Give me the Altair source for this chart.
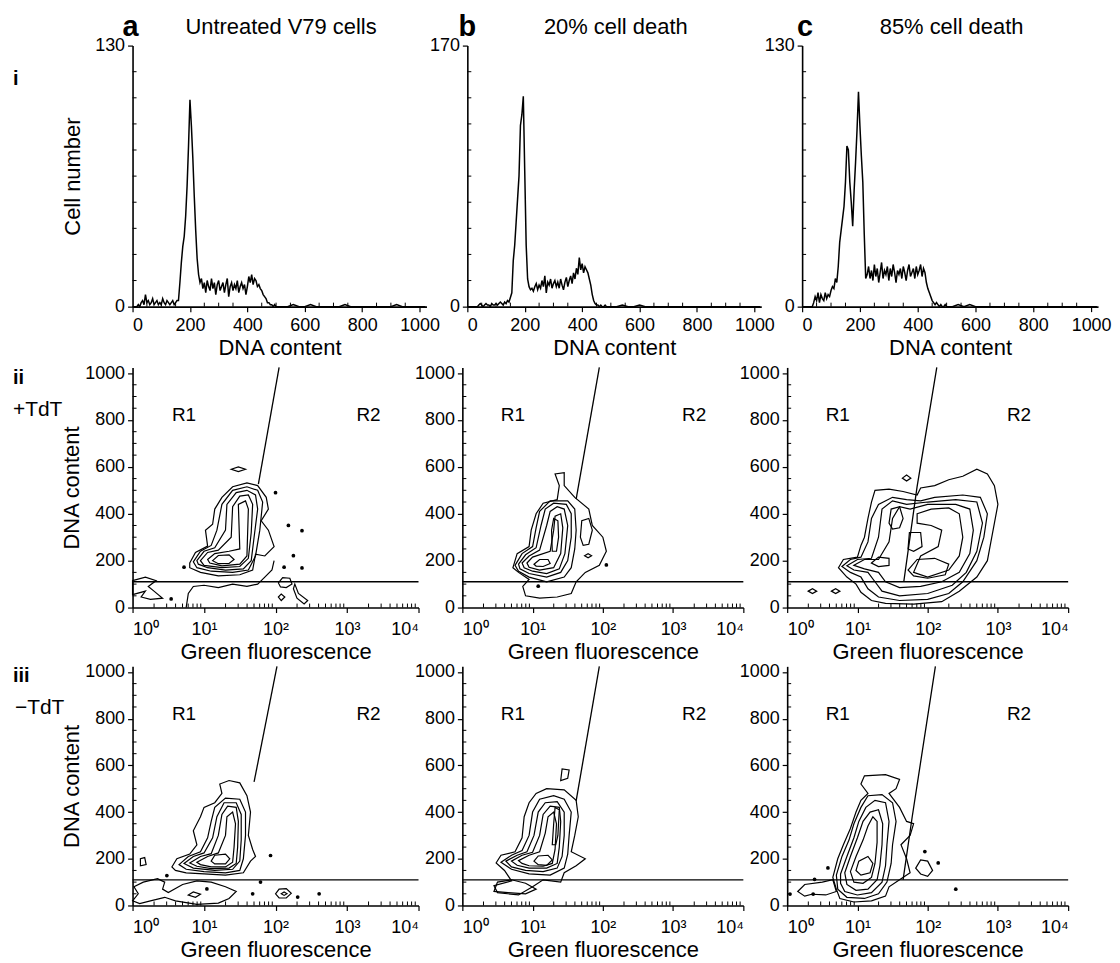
import altair as alt
import pandas as pd

FONT = "Liberation Sans"

# ---------------- Row i : DNA-content histograms ----------------
HIST_X = list(range(0, 505, 5)) + list(range(520, 1030, 20))

HIST_A = [0, 0, 0, 0, 1, 0,
          2, 3, 1, 6, 2, 3, 1, 2, 4, 1, 2, 3, 1, 2, 1, 4, 2, 1, 3, 2, 1, 2, 3, 1, 2, 3,
          3, 12, 22, 30, 35, 45, 60, 80, 103, 90, 74, 55, 38, 24, 16, 12,
          14, 9, 12, 7, 13, 10, 8, 14, 9, 12, 6, 11, 13, 8, 10, 12, 7, 11, 14, 5,
          10, 12, 8, 11, 9, 13, 7, 10, 12, 9, 11, 6, 10, 15, 12, 16, 11, 14, 13, 10, 11,
          9, 8, 6, 5, 4, 2, 2, 1, 1, 0, 1, 0,
          0, 0, 1, 0, 0, 1, 0, 0, 0, 0, 0, 1, 0, 0, 0, 0, 0, 0, 0, 0, 1, 0, 0, 0, 0, 0]

HIST_B = [0, 0, 0, 0, 0, 0,
          0, 0, 1, 2, 1, 0, 1, 2, 1, 1, 0, 2, 1, 1, 2, 1, 2, 3, 2, 1, 3, 2, 4, 3, 6, 9,
          30, 40, 55, 70, 85, 118, 125, 137, 88, 40, 18, 13, 11, 12, 10, 13,
          15, 11, 14, 12, 17, 13, 20, 9, 16, 14, 18, 12, 15, 17, 13, 16, 12, 18, 14, 11,
          16, 19, 13, 17, 20, 15, 22, 18, 25, 21, 32, 24, 28, 22, 26, 24, 22, 18, 14, 8, 4,
          2, 1, 1, 0, 1, 0, 0, 1, 0, 0, 0, 0,
          0, 1, 0, 0, 1, 0, 0, 0, 0, 0, 0, 0, 0, 0, 0, 0, 0, 0, 0, 0, 0, 0, 0, 0, 0, 0]

HIST_C = [0, 0, 0, 0, 0, 0,
          0, 0, 2, 5, 3, 7, 2, 6, 4, 3, 7, 4, 6, 5, 8, 10, 9, 14, 12, 20, 32, 38, 44, 50, 62, 80,
          78, 62, 52, 40, 58, 72, 88, 107, 90, 75, 62, 36, 14, 16, 20, 14,
          18, 13, 21, 15, 19, 12, 17, 22, 14, 18, 16, 20, 13, 19, 15, 21, 17, 12, 18, 16,
          19, 14, 20, 17, 13, 18, 21, 15, 17, 19, 14, 20, 16, 18, 21, 15, 19, 17, 12, 9, 7,
          5, 3, 2, 1, 2, 1, 0, 1, 0, 0, 1, 0,
          0, 1, 0, 1, 0, 0, 0, 0, 0, 0, 0, 0, 0, 0, 0, 0, 0, 0, 0, 0, 0, 0, 0, 0, 0, 0]

HIST_YMAX = [130, 170, 130]
HIST_XTICKS = [0, 200, 400, 600, 800, 1000]
HIST_XMINOR = [50, 100, 150, 250, 300, 350, 450, 500, 550, 650, 700, 750, 850, 900, 950]

COL_TITLES = ["Untreated V79 cells", "20% cell death", "85% cell death"]
COL_LETTERS = ["a", "b", "c"]

# ---------------- Rows ii / iii : contour plots ----------------
# vertices are (log10 green fluorescence, DNA content)
A2_RINGS = [
    [(0.80, 190), (0.88, 235), (1.05, 262), (1.02, 330), (1.12, 355), (1.15, 420), (1.25, 470), (1.40, 515),
     (1.60, 532), (1.75, 520), (1.87, 470), (1.90, 420), (1.80, 370), (1.90, 330), (1.98, 260), (1.85, 220),
     (1.72, 228), (1.68, 160), (1.50, 140), (1.20, 135), (0.95, 150), (0.80, 170)],
    [(0.85, 195), (0.95, 240), (1.10, 265), (1.18, 330), (1.25, 440), (1.40, 500), (1.60, 515), (1.75, 500),
     (1.82, 450), (1.78, 330), (1.72, 220), (1.62, 160), (1.40, 150), (1.10, 155), (0.90, 170)],
    [(0.90, 200), (1.00, 240), (1.15, 255), (1.30, 330), (1.32, 440), (1.45, 490), (1.60, 500), (1.72, 480),
     (1.75, 420), (1.70, 300), (1.66, 200), (1.55, 165), (1.30, 160), (1.05, 170), (0.92, 185)],
    [(0.95, 200), (1.05, 235), (1.20, 245), (1.38, 300), (1.40, 430), (1.50, 475), (1.62, 480), (1.68, 440),
     (1.66, 320), (1.62, 210), (1.50, 175), (1.25, 170), (1.00, 180)],
    [(1.05, 205), (1.15, 230), (1.35, 240), (1.50, 250), (1.48, 440), (1.58, 455), (1.62, 420), (1.60, 220),
     (1.50, 185), (1.25, 178), (1.08, 190)],
    [(1.12, 200), (1.20, 222), (1.35, 225), (1.42, 205), (1.35, 188), (1.20, 187)],
    [(1.38, 590), (1.48, 600), (1.58, 590), (1.48, 580)],
    [(0.00, 115), (0.18, 130), (0.33, 115), (0.22, 90), (0.30, 70), (0.42, 40), (0.25, 35), (0.12, 45),
     (0.18, 70), (0.00, 55)],
    [(2.04, 105), (2.10, 128), (2.20, 125), (2.23, 100), (2.15, 85), (2.07, 88)],
    [(2.04, 45), (2.08, 58), (2.13, 45), (2.08, 30)],
    [(2.27, 100), (2.32, 60), (2.45, 30), (2.40, 15), (2.30, 40), (2.25, 80)],
]
A2_OPEN = [
    [(0.75, 0), (0.78, 60), (0.85, 90), (1.00, 95), (1.20, 85), (1.40, 100), (1.60, 90), (1.75, 100),
     (1.85, 130), (1.95, 160), (1.98, 200)],
]
A2_DOTS = [(2.00, 490), (2.18, 350), (2.37, 328), (2.25, 221), (2.12, 172), (2.37, 169), (0.72, 172), (0.54, 37)]
A2_GATE = [(2.05, 1024), (1.76, 526)]

B2_RINGS = [
    [(0.72, 170), (0.78, 230), (0.95, 260), (0.98, 330), (1.05, 400), (1.15, 445), (1.35, 460), (1.38, 520),
     (1.32, 570), (1.45, 575), (1.45, 520), (1.60, 470), (1.80, 420), (1.85, 350), (2.00, 300), (2.05, 240),
     (1.95, 180), (1.75, 150), (1.62, 110), (1.55, 60), (1.35, 45), (1.10, 40), (0.90, 50), (0.86, 90),
     (0.95, 120), (0.80, 150)],
    [(0.75, 180), (0.85, 230), (1.00, 260), (1.05, 340), (1.10, 410), (1.25, 455), (1.50, 455), (1.60, 420),
     (1.62, 330), (1.60, 250), (1.55, 170), (1.45, 130), (1.20, 110), (0.95, 130), (0.80, 155)],
    [(0.80, 185), (0.90, 225), (1.05, 255), (1.12, 350), (1.18, 420), (1.30, 445), (1.48, 440), (1.55, 400),
     (1.55, 300), (1.50, 200), (1.40, 150), (1.20, 130), (0.95, 145), (0.82, 165)],
    [(0.85, 190), (0.95, 220), (1.10, 245), (1.20, 350), (1.25, 410), (1.35, 430), (1.45, 420), (1.50, 350),
     (1.46, 230), (1.38, 165), (1.20, 145), (1.00, 155), (0.88, 170)],
    [(0.92, 190), (1.00, 215), (1.25, 240), (1.30, 330), (1.32, 390), (1.40, 400), (1.43, 340), (1.40, 230),
     (1.30, 170), (1.10, 160), (0.95, 172)],
    [(1.02, 185), (1.10, 205), (1.22, 205), (1.25, 188), (1.15, 175), (1.05, 177)],
    [(1.28, 240), (1.27, 330), (1.30, 380), (1.36, 370), (1.37, 300), (1.34, 240)],
    [(1.68, 300), (1.70, 370), (1.80, 380), (1.85, 330), (1.80, 270), (1.72, 265)],
    [(1.74, 221), (1.79, 230), (1.84, 221), (1.79, 212)],
]
B2_OPEN = []
B2_DOTS = [(2.05, 182), (1.08, 91)]
B2_GATE = [(1.95, 1024), (1.62, 462)]

C2_RINGS = [
    [(0.73, 170), (0.80, 205), (1.00, 215), (1.05, 265), (1.10, 300), (1.15, 380), (1.20, 450), (1.25, 500),
     (1.45, 505), (1.65, 495), (1.85, 480), (1.90, 510), (2.10, 520), (2.30, 545), (2.50, 560), (2.70, 590),
     (2.85, 570), (2.95, 520), (3.00, 440), (2.95, 360), (2.90, 280), (2.85, 200), (2.70, 130), (2.45, 70),
     (2.20, 25), (1.80, 15), (1.40, 18), (1.20, 30), (1.05, 65), (0.98, 100), (0.85, 130)],
    [(0.78, 175), (0.90, 205), (1.05, 215), (1.15, 280), (1.20, 380), (1.30, 440), (1.50, 470), (1.70, 460),
     (1.90, 455), (2.10, 470), (2.50, 480), (2.75, 470), (2.85, 400), (2.80, 300), (2.70, 200), (2.50, 110),
     (2.30, 60), (2.00, 35), (1.60, 30), (1.30, 45), (1.15, 80), (1.05, 130), (0.90, 150)],
    [(0.85, 178), (1.00, 205), (1.20, 210), (1.30, 300), (1.35, 420), (1.50, 455), (1.70, 440), (2.00, 450),
     (2.40, 460), (2.70, 450), (2.78, 360), (2.70, 240), (2.55, 150), (2.35, 95), (2.00, 60), (1.60, 50),
     (1.35, 70), (1.25, 110), (1.15, 150), (0.95, 160)],
    [(0.95, 180), (1.10, 205), (1.30, 205), (1.45, 280), (1.50, 380), (1.60, 430), (1.75, 420), (2.00, 440),
     (2.40, 440), (2.60, 420), (2.65, 330), (2.60, 230), (2.45, 150), (2.20, 110), (1.90, 90), (1.60, 85),
     (1.40, 110), (1.30, 150), (1.10, 165)],
    [(1.85, 400), (2.05, 420), (2.30, 425), (2.45, 400), (2.50, 300), (2.45, 220), (2.30, 160), (2.00, 130),
     (1.80, 150), (1.90, 220), (2.15, 260), (2.20, 330), (2.05, 350), (1.85, 360)],
    [(1.72, 160), (1.85, 205), (2.10, 210), (2.30, 185), (2.25, 140), (2.00, 125), (1.80, 135)],
    [(1.45, 360), (1.48, 420), (1.60, 430), (1.65, 380), (1.60, 340), (1.50, 335)],
    [(1.20, 190), (1.30, 215), (1.45, 210), (1.45, 180), (1.30, 175)],
    [(1.72, 250), (1.74, 320), (1.90, 320), (1.92, 260), (1.80, 240)],
    [(0.30, 70), (0.36, 80), (0.42, 70), (0.36, 60)],
    [(0.63, 70), (0.69, 80), (0.75, 70), (0.69, 60)],
    [(1.64, 552), (1.70, 565), (1.76, 552), (1.70, 540)],
]
C2_OPEN = []
C2_DOTS = []
C2_GATE = [(2.13, 1024), (1.85, 517), (1.66, 110)]

A3_RINGS = [
    [(0.55, 165), (0.62, 200), (0.80, 220), (0.90, 260), (0.85, 320), (0.95, 380), (1.00, 420), (1.15, 440),
     (1.25, 480), (1.22, 520), (1.35, 535), (1.50, 525), (1.60, 470), (1.65, 400), (1.62, 300), (1.68, 240),
     (1.72, 210), (1.65, 190), (1.55, 140), (1.30, 130), (1.00, 135), (0.75, 140), (0.60, 150)],
    [(0.65, 175), (0.78, 210), (0.95, 230), (1.05, 290), (1.10, 360), (1.15, 420), (1.30, 460), (1.50, 455),
     (1.58, 400), (1.58, 300), (1.55, 200), (1.50, 150), (1.30, 140), (1.00, 145), (0.75, 155)],
    [(0.72, 180), (0.85, 210), (1.00, 225), (1.12, 290), (1.18, 380), (1.28, 440), (1.45, 440), (1.52, 390),
     (1.52, 280), (1.50, 190), (1.40, 155), (1.15, 150), (0.85, 160)],
    [(0.80, 182), (0.95, 210), (1.10, 222), (1.20, 300), (1.25, 390), (1.33, 425), (1.45, 420), (1.48, 360),
     (1.47, 250), (1.45, 180), (1.35, 160), (1.10, 158), (0.90, 168)],
    [(0.90, 185), (1.05, 210), (1.20, 225), (1.30, 300), (1.32, 380), (1.40, 400), (1.44, 350), (1.42, 250),
     (1.40, 185), (1.30, 165), (1.10, 165), (0.95, 175)],
    [(1.10, 190), (1.15, 215), (1.30, 220), (1.36, 200), (1.30, 178), (1.15, 178)],
    [(0.00, 20), (0.08, 50), (0.02, 80), (0.15, 100), (0.35, 115), (0.45, 100), (0.42, 70), (0.50, 55),
     (0.70, 90), (0.90, 105), (1.10, 100), (1.30, 80), (1.45, 60), (1.35, 30), (1.20, 10), (0.90, 5),
     (0.60, 20), (0.45, 35), (0.25, 20), (0.10, 8)],
    [(0.78, 45), (0.85, 58), (0.95, 48), (0.88, 35)],
    [(2.00, 50), (2.05, 70), (2.15, 72), (2.22, 52), (2.15, 32), (2.05, 32)],
    [(2.08, 50), (2.12, 58), (2.16, 50), (2.12, 43)],
    [(0.11, 170), (0.11, 200), (0.17, 205), (0.19, 175)],
]
A3_OPEN = []
A3_DOTS = [(1.68, 50), (2.31, 36), (2.61, 50), (1.93, 214), (1.79, 100), (0.48, 128), (1.04, 71)]
A3_GATE = [(2.02, 1024), (1.70, 529)]

B3_RINGS = [
    [(0.48, 182), (0.55, 215), (0.75, 230), (0.85, 290), (0.88, 380), (0.95, 440), (1.05, 480), (1.20, 500),
     (1.45, 495), (1.62, 450), (1.65, 380), (1.60, 300), (1.55, 230), (1.75, 200), (1.62, 170), (1.45, 140),
     (1.40, 100), (1.15, 110), (1.00, 80), (0.80, 45), (0.50, 55), (0.45, 85), (0.70, 105), (0.60, 150)],
    [(0.55, 185), (0.70, 215), (0.85, 235), (0.95, 300), (1.00, 400), (1.10, 455), (1.30, 470), (1.45, 455),
     (1.55, 400), (1.52, 300), (1.50, 220), (1.45, 160), (1.25, 130), (0.95, 135), (0.70, 155)],
    [(0.62, 190), (0.78, 215), (0.92, 230), (1.02, 300), (1.08, 400), (1.18, 440), (1.35, 445), (1.45, 400),
     (1.45, 300), (1.42, 210), (1.35, 160), (1.15, 145), (0.90, 150), (0.70, 165)],
    [(0.70, 190), (0.85, 215), (1.00, 228), (1.10, 300), (1.15, 390), (1.25, 425), (1.38, 420), (1.40, 360),
     (1.38, 250), (1.35, 180), (1.20, 160), (0.95, 160), (0.78, 172)],
    [(0.80, 192), (0.95, 215), (1.10, 230), (1.18, 310), (1.22, 380), (1.30, 400), (1.34, 350), (1.32, 240),
     (1.28, 180), (1.15, 168), (0.95, 170), (0.85, 180)],
    [(1.02, 190), (1.08, 212), (1.22, 215), (1.28, 195), (1.20, 172), (1.08, 175)],
    [(1.28, 260), (1.30, 350), (1.32, 420), (1.38, 410), (1.36, 300), (1.33, 260)],
    [(1.40, 535), (1.42, 585), (1.52, 580), (1.50, 545)],
    [(0.45, 60), (0.50, 100), (0.70, 110), (0.90, 95), (1.05, 70), (0.90, 50), (0.65, 55)],
]
B3_OPEN = []
B3_DOTS = []
B3_GATE = [(1.95, 1024), (1.62, 448)]

C3_RINGS = [
    [(0.65, 120), (0.72, 200), (0.80, 260), (0.90, 330), (0.98, 400), (1.05, 450), (1.15, 480), (1.05, 520),
     (1.10, 555), (1.40, 560), (1.60, 540), (1.55, 500), (1.45, 480), (1.60, 420), (1.70, 360), (1.80, 350),
     (1.75, 300), (1.62, 260), (1.70, 200), (1.75, 140), (1.60, 110), (1.45, 80), (1.40, 40), (1.20, 20),
     (0.95, 15), (0.75, 30), (0.70, 70)],
    [(0.70, 130), (0.78, 210), (0.88, 280), (0.95, 350), (1.05, 420), (1.15, 470), (1.35, 475), (1.50, 440),
     (1.55, 360), (1.50, 260), (1.48, 180), (1.42, 100), (1.30, 50), (1.10, 30), (0.85, 35), (0.72, 70)],
    [(0.76, 135), (0.85, 210), (0.95, 290), (1.02, 360), (1.12, 420), (1.25, 450), (1.40, 440), (1.45, 360),
     (1.42, 260), (1.40, 170), (1.35, 100), (1.20, 55), (1.00, 45), (0.82, 60), (0.76, 95)],
    [(0.82, 140), (0.90, 210), (1.00, 290), (1.08, 360), (1.18, 400), (1.30, 410), (1.36, 350), (1.35, 260),
     (1.32, 170), (1.28, 110), (1.15, 70), (0.98, 65), (0.85, 90)],
    [(0.90, 145), (0.98, 210), (1.08, 280), (1.15, 340), (1.22, 380), (1.28, 360), (1.28, 270), (1.25, 180),
     (1.20, 120), (1.08, 95), (0.95, 100)],
    [(0.98, 150), (1.02, 190), (1.15, 210), (1.22, 180), (1.18, 140), (1.05, 130)],
    [(0.15, 60), (0.25, 90), (0.50, 100), (0.65, 110), (0.70, 60), (0.55, 45), (0.35, 48), (0.25, 40)],
    [(1.83, 160), (1.90, 195), (2.00, 190), (2.07, 150), (2.00, 125), (1.90, 135)],
]
C3_OPEN = []
C3_DOTS = [(1.96, 231), (2.15, 182), (2.40, 70), (0.58, 161), (0.39, 112), (0.04, 49), (0.37, 49)]
C3_GATE = [(2.11, 1024), (1.78, 380), (1.65, 110)]

GATE_DNA = 110
REGION_TEXT = ["R1", "R2"]
REGION_POS = [(0.72, 820), (3.30, 820)]
LOG_TICKS = [1, 10, 100, 1000, 10000]
LOG_MINOR = [2, 3, 4, 5, 6, 7, 8, 9, 20, 30, 40, 50, 60, 70, 80, 90,
             200, 300, 400, 500, 600, 700, 800, 900, 2000, 3000, 4000, 5000, 6000, 7000, 8000, 9000]
DNA_TICKS = [0, 200, 400, 600, 800, 1000]
DNA_MINOR = [50, 100, 150, 250, 300, 350, 450, 500, 550, 650, 700, 750, 850, 900, 950]

SUP = ("datum.value == 1 ? '10\u2070' : datum.value == 10 ? '10\u00b9' : datum.value == 100 ? '10\u00b2'"
       " : datum.value == 1000 ? '10\u00b3' : '10\u2074'")


def path_df(paths):
    rows = []
    for i, p in enumerate(paths):
        for j, (lx, d) in enumerate(p):
            rows.append({"id": i, "k": j, "g": 10 ** lx, "dna": d})
    return pd.DataFrame(rows, columns=["id", "k", "g", "dna"])


def txt(text, x, y, size=19, weight="normal", align="left", baseline="alphabetic"):
    return alt.Chart(pd.DataFrame({"t": [text]})).mark_text(
        font=FONT, fontSize=size, fontWeight=weight, align=align, baseline=baseline, color="black"
    ).encode(text="t:N", x=alt.value(x), y=alt.value(y))


def hist_panel(vals, ymax, w, h, ytitle, extra):
    df = pd.DataFrame({"dna": HIST_X, "n": vals})
    if ytitle:
        yax = alt.Axis(values=[0, ymax], format="d", title="Cell number", tickSize=5, labelPadding=3, titlePadding=10)
    else:
        yax = alt.Axis(values=[0, ymax], format="d", title=None, tickSize=5, labelPadding=3)
    xenc = alt.X("dna:Q", scale=alt.Scale(domain=[0, 1024], nice=False),
                 axis=alt.Axis(values=HIST_XTICKS, format="d", title="DNA content", tickSize=5,
                               labelPadding=5, titlePadding=3))
    yenc = alt.Y("n:Q", scale=alt.Scale(domain=[0, ymax], nice=False), axis=yax)
    line = alt.Chart(df).mark_line(color="black", strokeWidth=1.5).encode(x=xenc, y=yenc)
    xm = alt.Chart(pd.DataFrame({"dna": HIST_XMINOR})).mark_rule(color="black", strokeWidth=1).encode(
        x=xenc, y=alt.value(h), y2=alt.value(h - 4))
    ym_vals = [ymax * k / 10 for k in range(1, 10)]
    ym = alt.Chart(pd.DataFrame({"n": ym_vals})).mark_rule(color="black", strokeWidth=1).encode(
        y=yenc, x=alt.value(0), x2=alt.value(4))
    return alt.layer(line, xm, ym, *extra).properties(width=w, height=h)


def contour_panel(rings, opens, dots, gate, w, h, ytitle, extra):
    xenc = alt.X("g:Q", scale=alt.Scale(type="log", domain=[1, 10000], nice=False),
                 axis=alt.Axis(values=LOG_TICKS, labelExpr=SUP, title="Green fluorescence",
                               tickSize=5, labelPadding=8, titlePadding=3))
    if ytitle:
        yax = alt.Axis(values=DNA_TICKS, format="d", title="DNA content", tickSize=5, labelPadding=3, titlePadding=1)
    else:
        yax = alt.Axis(values=DNA_TICKS, format="d", title=None, tickSize=5, labelPadding=3)
    yenc = alt.Y("dna:Q", scale=alt.Scale(domain=[0, 1024], nice=False), axis=yax)
    layers = [
        alt.Chart(path_df(rings)).mark_line(interpolate="linear-closed", color="black", strokeWidth=1.2).encode(
            x=xenc, y=yenc, detail="id:N", order="k:Q"),
    ]
    if opens:
        layers.append(alt.Chart(path_df(opens)).mark_line(color="black", strokeWidth=1.2).encode(
            x=xenc, y=yenc, detail="id:N", order="k:Q"))
    gate_paths = [gate, [(0.0, GATE_DNA), (4.0, GATE_DNA)]]
    layers.append(alt.Chart(path_df(gate_paths)).mark_line(color="black", strokeWidth=1.3).encode(
        x=xenc, y=yenc, detail="id:N", order="k:Q"))
    if dots:
        layers.append(alt.Chart(path_df([dots])).mark_circle(color="black", size=14, opacity=1).encode(
            x=xenc, y=yenc))
    lab = pd.DataFrame({"g": [10 ** p[0] for p in REGION_POS], "dna": [p[1] for p in REGION_POS],
                        "t": REGION_TEXT})
    layers.append(alt.Chart(lab).mark_text(font=FONT, fontSize=19, color="black", baseline="middle").encode(
        x=xenc, y=yenc, text="t:N"))
    layers.append(alt.Chart(pd.DataFrame({"g": LOG_MINOR})).mark_rule(color="black", strokeWidth=1).encode(
        x=xenc, y=alt.value(h), y2=alt.value(h - 4)))
    layers.append(alt.Chart(pd.DataFrame({"dna": DNA_MINOR})).mark_rule(color="black", strokeWidth=1).encode(
        y=yenc, x=alt.value(0), x2=alt.value(4)))
    return alt.layer(*layers, *extra).properties(width=w, height=h)


H1, H2, H3 = 262, 241, 240
W1 = [295, 295, 297]
W2 = [287, 282, 282]

hist_extras = [
    [txt("a", -2, -10, 29, "bold", "center"), txt(COL_TITLES[0], 149, -12, 22, "normal", "center"),
     txt("i", -120, 34, 20, "bold", "left", "middle")],
    [txt("b", 0, -10, 29, "bold", "center"), txt(COL_TITLES[1], 149, -12, 22, "normal", "center")],
    [txt("c", 3, -10, 29, "bold", "center"), txt(COL_TITLES[2], 150, -12, 22, "normal", "center")],
]
row1 = alt.hconcat(
    hist_panel(HIST_A, HIST_YMAX[0], W1[0], H1, True, hist_extras[0]),
    hist_panel(HIST_B, HIST_YMAX[1], W1[1], H1, False, hist_extras[1]),
    hist_panel(HIST_C, HIST_YMAX[2], W1[2], H1, False, hist_extras[2]),
    spacing=41, bounds="flush")

row2 = alt.hconcat(
    contour_panel(A2_RINGS, A2_OPEN, A2_DOTS, A2_GATE, W2[0], H2, True,
                  [txt("ii", -120, 11, 20, "bold", "left", "middle"), txt("+TdT", -120, 43, 21, "normal", "left", "middle")]),
    contour_panel(B2_RINGS, B2_OPEN, B2_DOTS, B2_GATE, W2[1], H2, False, []),
    contour_panel(C2_RINGS, C2_OPEN, C2_DOTS, C2_GATE, W2[2], H2, False, []),
    spacing=44, bounds="flush")

row3 = alt.hconcat(
    contour_panel(A3_RINGS, A3_OPEN, A3_DOTS, A3_GATE, W2[0], H3, True,
                  [txt("iii", -120, 10, 20, "bold", "left", "middle"), txt("\u2212TdT", -118, 42, 21, "normal", "left", "middle")]),
    contour_panel(B3_RINGS, B3_OPEN, B3_DOTS, B3_GATE, W2[1], H3, False, []),
    contour_panel(C3_RINGS, C3_OPEN, C3_DOTS, C3_GATE, W2[2], H3, False, []),
    spacing=44, bounds="flush")

lower = alt.vconcat(row2, row3, spacing=0)

chart = alt.vconcat(row1, lower, spacing=5).properties(
    padding={"left": 5, "top": 3, "right": 0, "bottom": 0}, background="white"
).configure_axis(
    labelFont=FONT, titleFont=FONT, labelFontSize=18, titleFontSize=22, titleFontWeight="normal",
    labelColor="black", titleColor="black", domainColor="black", tickColor="black",
    domainWidth=1.6, tickWidth=1.2, grid=False
).configure_view(stroke=None)

chart.save("out.html", embed_options={"renderer": "svg", "actions": False})
